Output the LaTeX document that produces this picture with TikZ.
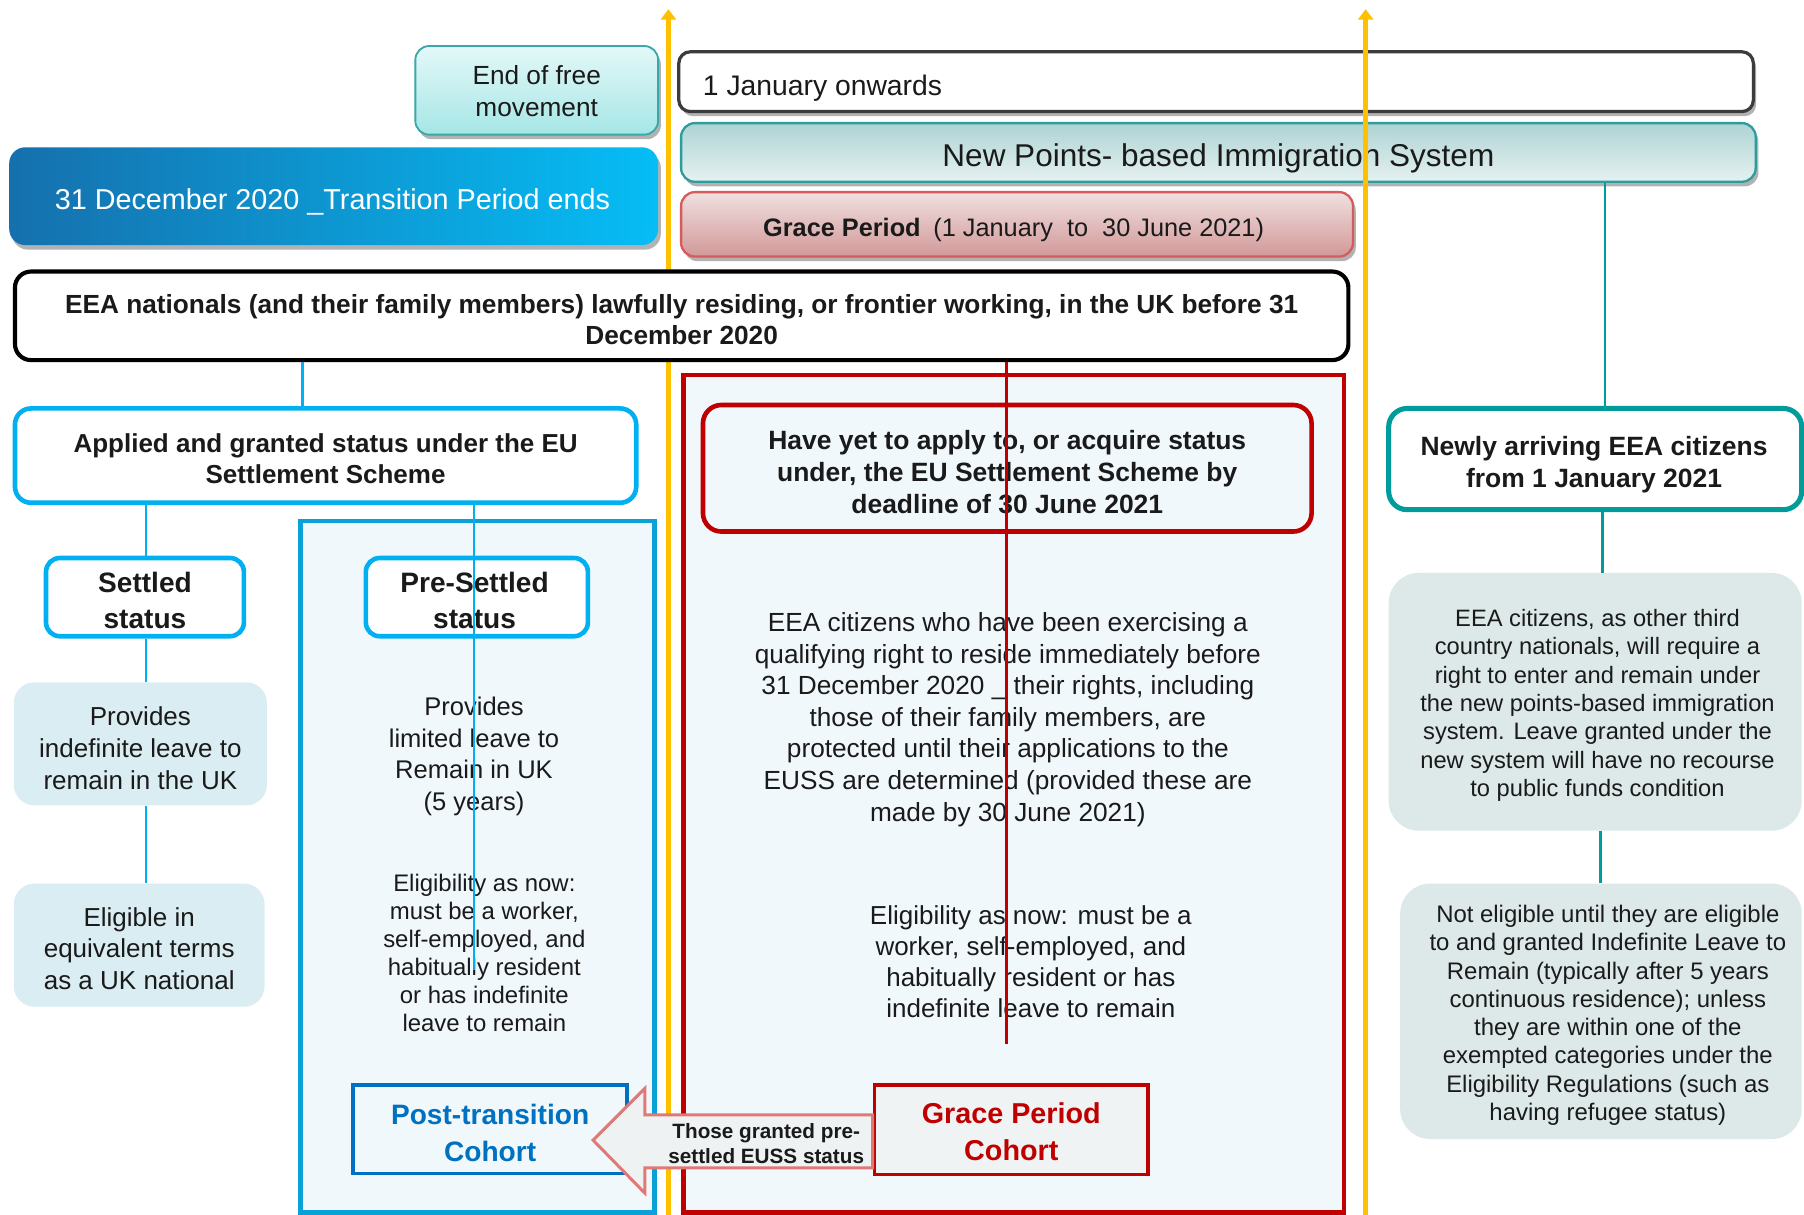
\documentclass[tikz,border=0pt]{standalone}
\usepackage{fontspec}
\setmainfont{Liberation Sans}
\usetikzlibrary{shadows,calc,arrows.meta}
\definecolor{ylw}{HTML}{FFC000}
\definecolor{skyb}{HTML}{00B0F0}
\definecolor{contb}{HTML}{0AA0D8}
\definecolor{darkb}{HTML}{0070C0}
\definecolor{dred}{HTML}{C00000}
\definecolor{tealc}{HTML}{009C9C}
\definecolor{palef}{HTML}{F1F8FC}
\definecolor{greyb}{HTML}{DAEDF3}
\definecolor{tealgrey}{HTML}{DDE9E9}
\definecolor{txt}{HTML}{1A1A1A}
\definecolor{endtop}{HTML}{E4F8F8}
\definecolor{endbot}{HTML}{A6E6E6}
\definecolor{endbd}{HTML}{3AA8A8}
\definecolor{pbtop}{HTML}{AED3D3}
\definecolor{pbbot}{HTML}{E6F1F1}
\definecolor{pbbd}{HTML}{2E9C9C}
\definecolor{decl}{HTML}{1570AD}
\definecolor{decr}{HTML}{06BDF5}
\definecolor{grtop}{HTML}{F0E0E0}
\definecolor{grbot}{HTML}{D29898}
\definecolor{grbd}{HTML}{D65C5C}
\definecolor{janbd}{HTML}{3C3C3C}
\definecolor{gpcfill}{HTML}{F0F3F3}
\definecolor{arrfill}{HTML}{EEF2F2}
\definecolor{arrbd}{HTML}{E07878}
\tikzset{
  fs/.style 2 args={font=\fontsize{#1}{#2}\selectfont},
  fsb/.style 2 args={font=\fontsize{#1}{#2}\selectfont\bfseries},
  box/.style={inner sep=0pt, align=center, text=txt},
  lbl/.style={inner sep=0pt, align=center, text=txt},
  sz/.style 2 args={minimum width=#1, minimum height=#2},
  shad/.style={drop shadow={shadow xshift=1.2pt, shadow yshift=-2pt, opacity=0.3, fill=black}},
  ylwline/.style={draw=ylw, line width=2.2pt, -{Triangle[width=6.5pt,length=4.5pt]}},
  bconn/.style={draw=skyb, line width=1.1pt},
  rconn/.style={draw=dred, line width=1.3pt},
  tconn/.style={draw=tealc, line width=1.1pt},
  softbox/.style={box, fill=#1, draw=none},
}
\begin{document}
\begin{tikzpicture}[x=0.5pt,y=-0.5pt]
\fill[white] (0,0) rectangle (1568,1056);
\useasboundingbox (0,0) rectangle (1568,1056);

% ---- top timeline boxes
\node[box, shad, top color=endtop, bottom color=endbot, draw=endbd, line width=0.8pt,
      rounded corners=6pt, sz={105.5pt}{38.5pt}] (endfree) at (466.5,78.5) {};
\node[lbl, fs={11.4pt}{14pt}] (endfreeT) at ($(endfree)+(0,1)$) {End of free\\movement};

\node[box, shad, fill=white, draw=janbd, line width=1.4pt, rounded corners=5pt,
      sz={467pt}{26pt}] (jan) at (1057,71) {};
\node[lbl, anchor=west, fs={12.3pt}{14pt}] (janT) at ($(jan.west)+(22,6)$) {1 January onwards};

\node[box, shad, top color=pbtop, bottom color=pbbot, draw=pbbd, line width=1pt,
      rounded corners=6pt, sz={467pt}{25.5pt}] (pbis) at (1059,132.5) {};
\node[lbl, fs={13.7pt}{15pt}] (pbisT) at ($(pbis)+(0,5)$) {New Points- based Immigration System};

\node[box, shad, left color=decl, right color=decr, rounded corners=7pt,
      sz={282pt}{42.5pt}] (dec) at (290,170.5) {};
\node[lbl, text=white, fs={12.5pt}{14pt}] (decT) at ($(dec)+(-1,5)$) {31 December 2020 \_Transition Period ends};

\node[box, shad, top color=grtop, bottom color=grbot, draw=grbd, line width=1pt,
      rounded corners=6pt, sz={292pt}{28pt}] (grace) at (884,195) {};
\node[lbl, fs={11pt}{13pt}] (graceT) at ($(grace)+(-3,5)$) {\textbf{Grace Period}\enspace(1 January\ \ to\ \ 30 June 2021)};

% ---- yellow time markers
\coordinate (ya) at (581,1056);
\coordinate (yat) at (581,8);
\coordinate (yb) at (1187,1056);
\coordinate (ybt) at (1187,8);
\draw[ylwline] (ya) -- (yat);
\draw[ylwline] (yb) -- (ybt);

% ---- EEA nationals
\node[box, fill=white, draw=black, line width=1.8pt, rounded corners=7pt,
      sz={579.5pt}{38.5pt}] (eea) at (592.5,274.5) {};
\node[lbl, fsb={11.4pt}{13.5pt}] (eeaT) at ($(eea)+(0,3)$) {EEA nationals (and their family members) lawfully residing, or frontier working, in the UK before 31\\December 2020};

% ---- containers
\node[box, fill=palef, draw=contb, line width=2pt, sz={154pt}{300.5pt}] (pscont) at (415,753.5) {};
\node[box, fill=palef, draw=dred, line width=2pt, sz={287pt}{364pt}] (redcont) at (881,690) {};

% ---- left branch
\node[box, fill=white, draw=skyb, line width=2pt, rounded corners=7pt,
      sz={270pt}{41pt}] (applied) at (283,396) {};
\node[lbl, fsb={11.3pt}{13.5pt}] (appliedT) at ($(applied)+(0,3)$) {Applied and granted status under the EU\\Settlement Scheme};

\node[box, fill=white, draw=skyb, line width=2pt, rounded corners=6pt,
      sz={86pt}{34pt}] (settled) at (126,519) {};
\node[lbl, fsb={12.2pt}{15.5pt}] (settledT) at ($(settled)+(0,3)$) {Settled\\status};

\node[box, fill=white, draw=skyb, line width=2pt, rounded corners=6pt,
      sz={96.5pt}{34pt}] (presettled) at (414.5,519) {};
\node[lbl, fsb={12.2pt}{15.5pt}] (presettledT) at ($(presettled)+(-2,3)$) {Pre-Settled\\status};

\node[softbox=greyb, rounded corners=9pt, sz={110pt}{53.5pt}] (prov1) at (122,646.5) {};
\node[lbl, fs={11.3pt}{14pt}] (prov1T) at ($(prov1)+(0,4)$) {Provides\\indefinite leave to\\remain in the UK};

\node[softbox=greyb, rounded corners=9pt, sz={109pt}{53.5pt}] (elig1) at (121,821.5) {};
\node[lbl, fs={11.3pt}{13.75pt}] (elig1T) at ($(elig1)+(0,3)$) {Eligible in\\equivalent terms\\as a UK national};

\coordinate (sx) at (127,0);
\coordinate (kx) at (263,0);
\draw[bconn] (eea.south -| kx) -- (applied.north -| kx);
\draw[bconn] (applied.south -| sx) -- (settled.north -| sx);
\draw[bconn] (settled.south -| sx) -- (prov1.north -| sx);
\draw[bconn] (prov1.south -| sx) -- (elig1.north -| sx);

\node[lbl, fs={11.1pt}{13.7pt}] (pstext1) at (412,657.5) {Provides\\limited leave to\\Remain in UK\\(5 years)};
\node[lbl, fs={10.4pt}{12.2pt}] (pstext2) at (421,828) {Eligibility as now:\\must be a worker,\\self-employed, and\\habitually resident\\or has indefinite\\leave to remain};

\node[box, fill=palef, draw=darkb, line width=1.5pt, sz={119pt}{38.5pt}] (postt) at (426,981.5) {};
\node[lbl, text=darkb, fsb={12.2pt}{16pt}] (posttT) at ($(postt)+(0,3)$) {Post-transition\\Cohort};

% ---- red branch
\node[box, fill=palef, draw=dred, line width=2pt, rounded corners=8pt,
      sz={264.5pt}{55pt}] (yet) at (875.5,407) {};
\node[lbl, fsb={11.5pt}{14pt}] (yetT) at ($(yet)+(0,3.5)$) {Have yet to apply to, or acquire status\\under, the EU Settlement Scheme by\\deadline of 30 June 2021};

\node[lbl, fs={11.4pt}{13.7pt}] (redtext1) at (876,625.5) {EEA citizens who have been exercising a\\qualifying right to reside immediately before\\31 December 2020 \_ their rights, including\\those of their family members, are\\protected until their applications to the\\EUSS are determined (provided these are\\made by 30 June 2021)};
\node[lbl, fs={11.3pt}{13.5pt}] (redtext2) at (896,836) {Eligibility as now: must be a\\worker, self-employed, and\\habitually resident or has\\indefinite leave to remain};

\node[box, fill=gpcfill, draw=dred, line width=1.5pt, sz={119pt}{39pt}] (gpc) at (879,982) {};
\node[lbl, text=dred, fsb={12.5pt}{16pt}] (gpcT) at ($(gpc)+(0,2)$) {Grace Period\\Cohort};

% ---- transfer arrow
\draw[fill=arrfill, draw=arrbd, line width=1.3pt, line join=miter]
  ($(gpc.west)+(0,-13)$) -- ($(gpc.west)+(-198,-13)$) -- ($(gpc.west)+(-198,-36)$)
  -- ($(gpc.west)+(-243,9)$) -- ($(gpc.west)+(-198,55)$) -- ($(gpc.west)+(-198,33)$)
  -- ($(gpc.west)+(0,33)$) -- cycle;
\node[lbl, fsb={9pt}{11pt}] (arrtxt) at (666,994) {Those granted pre-\\settled EUSS status};

% ---- right branch
\node[box, fill=white, draw=tealc, line width=2.2pt, rounded corners=8pt,
      sz={179.5pt}{44pt}] (newly) at (1386.5,399) {};
\node[lbl, fsb={11.5pt}{14pt}] (newlyT) at ($(newly)+(-1,5)$) {Newly arriving EEA citizens\\from 1 January 2021};

\node[softbox=tealgrey, rounded corners=13pt, sz={179.5pt}{112pt}] (rb1) at (1386.5,610) {};
\node[lbl, fs={10.3pt}{12.3pt}] (rb1T) at ($(rb1)+(2,3)$) {EEA citizens, as other third\\country nationals, will require a\\right to enter and remain under\\the new points-based immigration\\system. Leave granted under the\\new system will have no recourse\\to public funds condition};

\node[softbox=tealgrey, rounded corners=13pt, sz={174.5pt}{111pt}] (rb2) at (1391.5,879) {};
\node[lbl, fs={10.4pt}{12.3pt}] (rb2T) at ($(rb2)+(6,3.5)$) {Not eligible until they are eligible\\to and granted Indefinite Leave to\\Remain (typically after 5 years\\continuous residence); unless\\they are within one of the\\exempted categories under the\\Eligibility Regulations (such as\\having refugee status)};

\coordinate (tx1) at (1395,0);
\coordinate (tx2) at (1393,0);
\coordinate (tx3) at (1391,0);
\draw[tconn] (pbis.south -| tx1) -- (newly.north -| tx1);
\draw[tconn] (newly.south -| tx2) -- (rb1.north -| tx2);
\draw[tconn] (rb1.south -| tx3) -- (rb2.north -| tx3);

% ---- long overlaid connectors
\coordinate (bend) at (412,843);
\draw[bconn] (applied.south -| bend) -- (bend);
\coordinate (rend) at (875,907);
\draw[rconn] (eea.south -| rend) -- (rend);
\end{tikzpicture}
\end{document}
